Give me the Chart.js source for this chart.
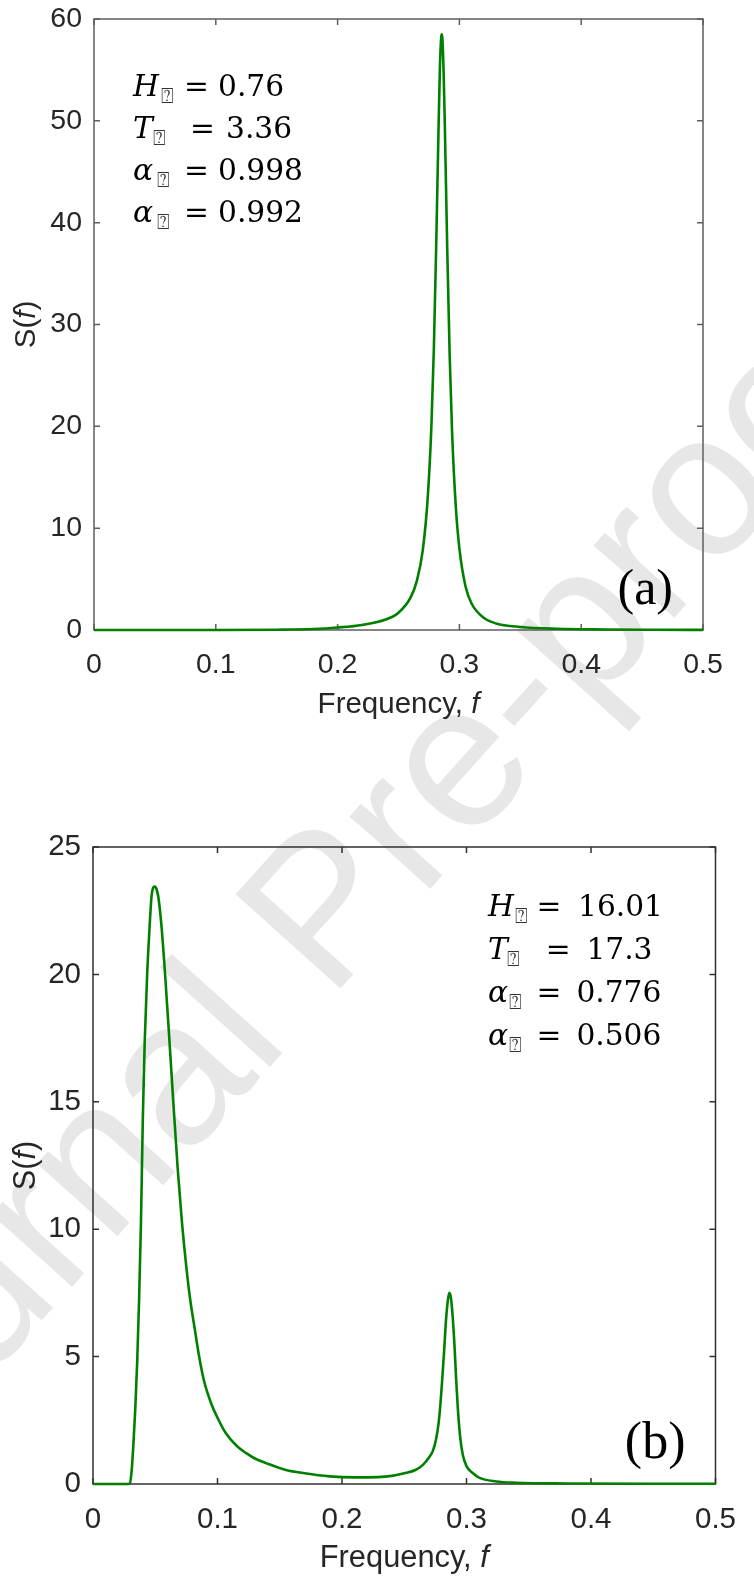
<!DOCTYPE html>
<html>
<head>
<meta charset="utf-8">
<script src="https://cdn.jsdelivr.net/npm/chart.js@4.4.1/dist/chart.umd.min.js"></script>
<style>
  html, body { margin: 0; padding: 0; background: #fff; overflow: hidden; }
  body { width: 754px; height: 1577px; position: relative; }
  #wm {
    position: absolute; left: -474px; top: 804px; width: 1584px; height: 205px;
    font: 205px/1 "Liberation Sans", Arial, sans-serif; color: #e7e7e7;
    white-space: nowrap; text-align: center;
    transform: rotate(-48deg); transform-origin: 50% 50%;
  }
  .panel { position: absolute; left: 0; }
  #pa { top: -40px; }
  #pb { top: 740px; }
</style>
</head>
<body>
<div id="wm">Journal Pre-proof</div>
<div class="panel" id="pa"><canvas id="chartA" width="754" height="770"></canvas></div>
<div class="panel" id="pb"><canvas id="chartB" width="754" height="837"></canvas></div>

<script>
// panel (a)
const freqA = [0, 0.05, 0.1, 0.15, 0.18, 0.2, 0.22, 0.24, 0.25, 0.26, 0.265, 0.27, 0.274, 0.277, 0.279,
  0.281, 0.283, 0.284, 0.285, 0.2855, 0.286, 0.287, 0.288, 0.29, 0.292, 0.294, 0.297, 0.3, 0.305, 0.31,
  0.32, 0.33, 0.35, 0.38, 0.42, 0.46, 0.5];
const specA = [0, 0, 0, 0.03, 0.1, 0.25, 0.5, 1.05, 1.7, 3.2, 4.8, 7.9, 13, 20, 27.5,
  38, 50, 55.2, 58.1, 58.5, 58.1, 55, 49.8, 37.5, 27, 19.4, 12.2, 8, 4.3, 2.6,
  1.2, 0.65, 0.3, 0.12, 0.05, 0.02, 0.01];
const paramsA = ["0.76", "3.36", "0.998", "0.992"];

// panel (b)
const freqB = [0, 0.01, 0.02, 0.028, 0.0295, 0.031, 0.0325, 0.034, 0.0355, 0.037, 0.0385, 0.04, 0.0415,
  0.0435, 0.0455, 0.0469, 0.0483, 0.0495, 0.051, 0.0526, 0.055, 0.0579, 0.061, 0.0645, 0.068, 0.0714,
  0.075, 0.0779, 0.082, 0.0849, 0.089, 0.095, 0.1, 0.1066, 0.1162, 0.1234, 0.13, 0.139, 0.155, 0.17,
  0.19, 0.21, 0.229, 0.24, 0.25, 0.259, 0.265, 0.27, 0.273, 0.2755, 0.2775, 0.279, 0.2805, 0.282, 0.2835,
  0.285, 0.2862, 0.2875, 0.289, 0.2905, 0.2917, 0.293, 0.2948, 0.297, 0.3, 0.305, 0.31, 0.324, 0.34,
  0.38, 0.45, 0.5];
const specB = [0, 0, 0, 0, 0.02, 0.5, 1.6, 3, 4.8, 7.2, 10.2, 14.3, 17.3,
  20, 21.9, 23, 23.4, 23.45, 23.35, 23, 21.9, 20, 17.7, 15, 12.4, 10.3,
  8.5, 7.3, 6, 5.1, 4.08, 3.15, 2.6, 2, 1.46, 1.2, 1, 0.82, 0.55, 0.42,
  0.3, 0.26, 0.27, 0.32, 0.42, 0.55, 0.75, 1.05, 1.3, 1.75, 2.35, 3.1, 4.1, 5.2, 6.4,
  7.2, 7.5, 7.3, 6.5, 5.3, 4.1, 3, 1.9, 1.15, 0.7, 0.43, 0.25, 0.1, 0.05,
  0.02, 0.01, 0.01];
const paramsB = ["16.01", "17.3", "0.776", "0.506"];

const symbols = ["H", "T", "\u03b1", "\u03b1"];
const SUB = "\u2370";   // the subscripts show up as a missing-glyph box
const xTicks = [0, 0.1, 0.2, 0.3, 0.4, 0.5];

const SANS = '"Liberation Sans", Arial, sans-serif';
const SERIF = '"DejaVu Serif", serif';
const GREEN = "#008000";

// frame with inward ticks, axis titles, parameter box and panel letter
const decor = {
  id: "decor",
  beforeDatasetsDraw(chart, args, o) {
    const { ctx, chartArea: a, scales: { x, y } } = chart;
    ctx.save();
    ctx.strokeStyle = o.frame;
    ctx.lineWidth = 1.5;
    ctx.strokeRect(a.left, a.top, a.right - a.left, a.bottom - a.top);
    ctx.beginPath();
    for (const v of xTicks) {
      const px = x.getPixelForValue(v);
      ctx.moveTo(px, a.bottom); ctx.lineTo(px, a.bottom - 6);
      ctx.moveTo(px, a.top); ctx.lineTo(px, a.top + 6);
    }
    for (const t of y.ticks) {
      const py = y.getPixelForValue(t.value);
      ctx.moveTo(a.left, py); ctx.lineTo(a.left + 6, py);
      ctx.moveTo(a.right, py); ctx.lineTo(a.right - 6, py);
    }
    ctx.stroke();
    ctx.restore();
  },
  afterDraw(chart, args, o) {
    const { ctx, chartArea: a } = chart;
    const tf = o.titleSize + "px ";
    ctx.save();
    ctx.fillStyle = "#262626";
    ctx.textBaseline = "alphabetic";

    // x title: "Frequency, f"
    const t1 = "Frequency, ", t2 = "f";
    ctx.font = tf + SANS;
    const w1 = ctx.measureText(t1).width;
    ctx.font = "italic " + tf + SANS;
    const w2 = ctx.measureText(t2).width;
    const sx = (a.left + a.right) / 2 - (w1 + w2) / 2;
    const by = a.bottom + 83;
    ctx.font = tf + SANS;
    ctx.fillText(t1, sx, by);
    ctx.font = "italic " + tf + SANS;
    ctx.fillText(t2, sx + w1, by);

    // y title: "S(f)"
    ctx.save();
    ctx.translate(35, (a.top + a.bottom) / 2);
    ctx.rotate(-Math.PI / 2);
    const parts = [["S(", ""], ["f", "italic "], [")", ""]];
    let tw = 0;
    for (const [s, st] of parts) { ctx.font = st + tf + SANS; tw += ctx.measureText(s).width; }
    let px = -tw / 2;
    for (const [s, st] of parts) {
      ctx.font = st + tf + SANS;
      ctx.fillText(s, px, 0);
      px += ctx.measureText(s).width;
    }
    ctx.restore();

    // parameter lines
    const af = o.textSize + "px ";
    o.values.forEach((val, i) => {
      const bx = a.left + o.textX, yy = a.top + o.textY + i * o.lineGap;
      ctx.fillStyle = "#000";
      ctx.font = "italic " + af + SERIF;
      ctx.fillText(symbols[i], bx, yy);
      ctx.font = "21px \"DejaVu Sans\", sans-serif";
      ctx.fillStyle = "#333";
      ctx.fillText(SUB, bx + o.boxDx[i] - 1, yy + 7);
      ctx.fillStyle = "#000";
      ctx.font = af + SERIF;
      ctx.fillText("=", bx + o.eqDx[i], yy);
      ctx.fillText(val, bx + o.valDx[i], yy);
    });

    // panel letter
    ctx.font = o.letterSize + 'px "Liberation Serif", "Times New Roman", serif';
    ctx.textAlign = "right";
    ctx.fillText(o.letter, a.right - 30, a.bottom - 26);
    ctx.restore();
  }
};

function makeChart(id, freq, spec, yMax, yStep, pad, yWidth, xHeight, tickSize, opts) {
  const data = freq.map((f, i) => ({ x: f, y: spec[i] }));
  return new Chart(document.getElementById(id), {
    type: "line",
    data: {
      datasets: [{
        data,
        borderColor: GREEN,
        borderWidth: 2.6,
        pointRadius: 0,
        fill: false,
        cubicInterpolationMode: "monotone",
        clip: false
      }]
    },
    options: {
      responsive: false,
      animation: false,
      events: [],
      layout: { padding: pad },
      plugins: { legend: { display: false }, tooltip: { enabled: false }, decor: opts },
      scales: {
        x: {
          type: "linear", min: 0, max: 0.5,
          afterBuildTicks: s => { s.ticks = xTicks.map(v => ({ value: v })); },
          afterFit: s => { s.height = xHeight; },
          grid: { display: false, drawTicks: false }, border: { display: false },
          ticks: {
            padding: 18, color: "#262626", font: { family: SANS, size: tickSize },
            maxRotation: 0, autoSkip: false,
            callback: v => String(Math.round(v * 10) / 10)
          }
        },
        y: {
          min: 0, max: yMax,
          afterFit: s => { s.width = yWidth; },
          grid: { display: false, drawTicks: false }, border: { display: false },
          ticks: {
            stepSize: yStep, padding: 12, color: "#262626",
            font: { family: SANS, size: tickSize }
          }
        }
      }
    },
    plugins: [decor]
  });
}

makeChart("chartA", freqA, specA, 60, 10,
  { top: 59, right: 51, left: 0, bottom: 0 }, 94, 100, 28.5,
  { frame: "#5e5e5e", values: paramsA, letter: "(a)", textX: 39, textY: 77, lineGap: 42,
    boxDx: [28.5, 21, 25, 25], eqDx: [51, 57, 51, 51], valDx: [85, 93, 85, 85],
    titleSize: 29.5, textSize: 29.7, letterSize: 50 });

makeChart("chartB", freqB, specB, 25, 5,
  { top: 107, right: 25, left: 0, bottom: 0 }, 93, 93, 29.5,
  { frame: "#303030", values: paramsB, letter: "(b)", textX: 395, textY: 68.5, lineGap: 43.3,
    boxDx: [28.4, 20, 21.7, 21.7], eqDx: [48.4, 57.7, 48.4, 48.4], valDx: [90, 98.4, 88.4, 88.4],
    titleSize: 30.8, textSize: 29.7, letterSize: 52 });
</script>
</body>
</html>
